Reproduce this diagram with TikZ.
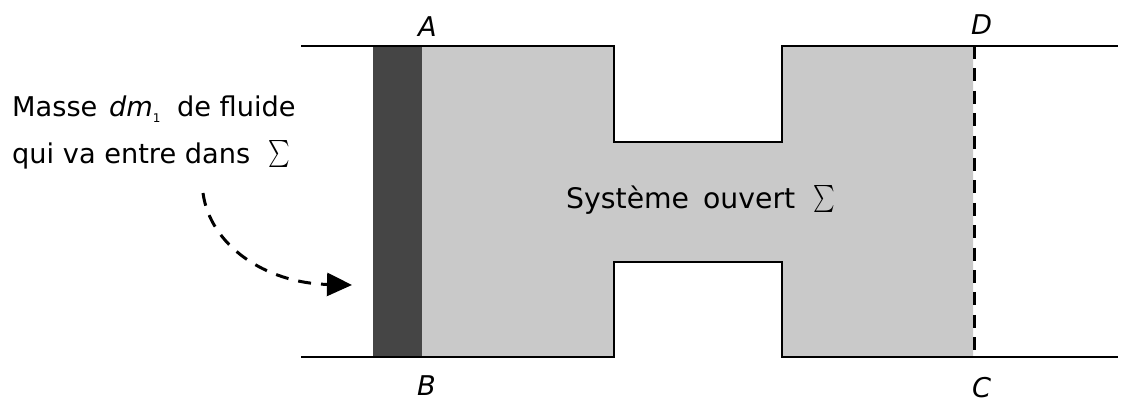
\documentclass[tikz,border=0pt]{standalone}
\usepackage{fontspec}
\setmainfont{DejaVu Sans}
\usetikzlibrary{arrows.meta}
\newcommand{\subone}{\raisebox{-6pt}{\fontsize{12pt}{12pt}\selectfont 1}}
\newcommand{\bigS}{\hspace{18pt}\raisebox{-7.5pt}{\scalebox{2.05}[2.7]{$\sum$}}}
\tikzset{
  lbl/.style={inner sep=0pt,font=\fontsize{27.2pt}{32pt}\selectfont,text=black,anchor=base west},
  wall/.style={draw=black,line width=2pt},
}
\begin{document}
\begin{tikzpicture}[x=1pt,y=-1pt,line join=miter]
\useasboundingbox (0,0) rectangle (1128,402);
\coordinate (A0) at (301,46);
\coordinate (B0) at (301,357);
\coordinate (D1) at (1118,46);
\coordinate (C1) at (1118,357);
\coordinate (P1) at (373,46);
\coordinate (P2) at (422,46);
\coordinate (P3) at (373,357);
\coordinate (P4) at (422,357);
\coordinate (D) at (973,46);
\coordinate (C) at (973,357);
\coordinate (Dd) at (974,46);
\coordinate (Cd) at (974,357);
\fill[black!21] (P2) -- (614,46) -- (614,142) -- (782,142) -- (782,46) -- (D) -- (C) -- (782,357) -- (782,262) -- (614,262) -- (614,357) -- (P4) -- cycle;
\fill[black!73] (P1) rectangle (P4);
\draw[wall] (A0) -- (614,46) -- (614,142) -- (782,142) -- (782,46) -- (D1);
\draw[wall] (B0) -- (614,357) -- (614,262) -- (782,262) -- (782,357) -- (C1);
\draw[line width=3pt,dash pattern=on 13pt off 9.4pt] (Dd) -- (Cd);
\node[lbl] (la) at (418,36) {\textit{A}};
\node[lbl] (lb) at (417,395) {\textit{B}};
\node[lbl] (lc) at (972,397) {\textit{C}};
\node[lbl] (ld) at (971,34) {\textit{D}};
\node[lbl] (m1) at (12,116) {Masse\hspace{3pt} \textit{dm}\subone\hspace{8pt} de fluide};
\node[lbl] (m2) at (12,163) {qui va entre dans\bigS};
\node[lbl,font=\fontsize{28.3pt}{32pt}\selectfont] (sys) at (566,208) {Système\hspace{5pt} ouvert\bigS};
\coordinate (s) at (203,193);
\coordinate (e) at (352,285);
\draw[line width=3pt,dash pattern=on 13pt off 10pt,-{Triangle[length=25pt,width=23pt]}] (s) .. controls (210,245) and (265,283) .. (e);
\end{tikzpicture}
\end{document}
